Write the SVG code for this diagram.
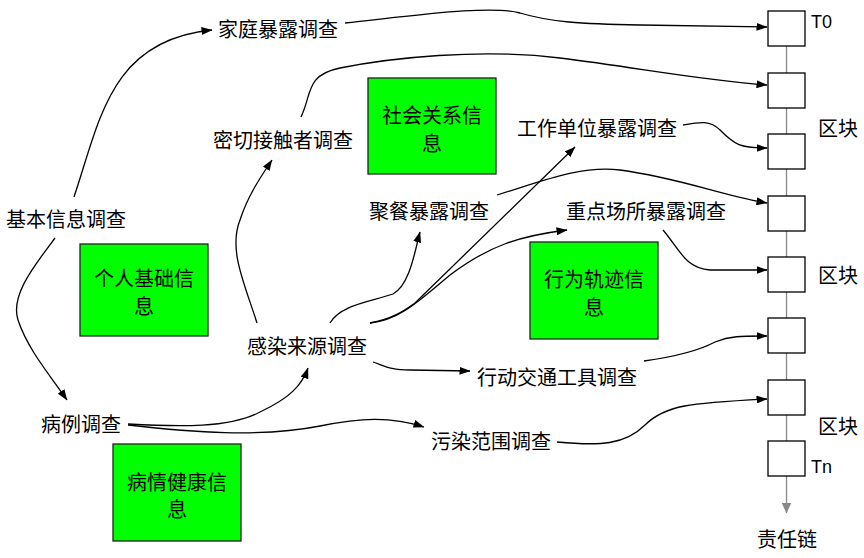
<svg xmlns="http://www.w3.org/2000/svg" width="864" height="558" viewBox="0 0 864 558">
<style>
text{font-family:"Noto Sans CJK SC","Noto Sans",sans-serif;font-size:20px;fill:#000;text-anchor:middle;dominant-baseline:central}
.lat{font-family:"Liberation Sans","Noto Sans",sans-serif;font-size:18px;text-anchor:start}
.blk{fill:#fff;stroke:#000;stroke-width:1.3}
.info{fill:#00ff00;stroke:#222;stroke-width:1.3}
.c{fill:none;stroke:#000;stroke-width:1.3;marker-end:url(#ah)}
.chain{fill:none;stroke:#888;stroke-width:1.3}
</style>
<defs>
<marker id="ah" viewBox="0 0 11 8" markerWidth="11" markerHeight="8" refX="10.5" refY="4" orient="auto" markerUnits="userSpaceOnUse"><path d="M0,0 L11,4 L0,8 z" fill="#000"/></marker>
<marker id="ahg" viewBox="0 0 11 10" markerWidth="11" markerHeight="10" refX="10.5" refY="5" orient="auto" markerUnits="userSpaceOnUse"><path d="M0,0 L11,5 L0,10 z" fill="#888"/></marker>
</defs>
<g id="chain">
<path class="chain" d="M786.5,45 V513" marker-end="url(#ahg)"/>
</g>
<g id="blocks">
<rect class="blk" x="768" y="11" width="37" height="35"/>
<rect class="blk" x="768" y="73" width="37" height="35"/>
<rect class="blk" x="768" y="134" width="37" height="35"/>
<rect class="blk" x="768" y="196" width="37" height="35"/>
<rect class="blk" x="768" y="257" width="37" height="35"/>
<rect class="blk" x="768" y="318" width="37" height="35"/>
<rect class="blk" x="768" y="380" width="37" height="35"/>
<rect class="blk" x="768" y="441" width="37" height="35"/>
<text class="lat" x="811" y="22">T0</text>
<text class="lat" x="811" y="467">Tn</text>
<text x="838" y="127">区块</text>
<text x="838" y="274">区块</text>
<text x="838" y="425">区块</text>
<text x="787" y="538">责任链</text>
</g>
<g id="n-jiating"><text x="278" y="28">家庭暴露调查</text></g>
<g id="n-jiben"><text x="66" y="218">基本信息调查</text></g>
<g id="n-miqie"><text x="283" y="139">密切接触者调查</text></g>
<g id="n-shehui"><rect class="info" x="368" y="78" width="128" height="96"/><text x="432" y="114">社会关系信</text><text x="432" y="142">息</text></g>
<g id="n-gongzuo"><text x="597" y="127">工作单位暴露调查</text></g>
<g id="n-jucan"><text x="429" y="210">聚餐暴露调查</text></g>
<g id="n-zhongdian"><text x="646" y="210">重点场所暴露调查</text></g>
<g id="n-geren"><rect class="info" x="80" y="244" width="128" height="92"/><text x="144" y="277">个人基础信</text><text x="144" y="305">息</text></g>
<g id="n-xingwei"><rect class="info" x="530" y="242" width="128" height="97"/><text x="594" y="278">行为轨迹信</text><text x="594" y="306">息</text></g>
<g id="n-ganran"><text x="307" y="345">感染来源调查</text></g>
<g id="n-xingdong"><text x="557" y="376">行动交通工具调查</text></g>
<g id="n-bingli"><text x="81" y="423">病例调查</text></g>
<g id="n-wuran"><text x="491" y="440">污染范围调查</text></g>
<g id="n-bingqing"><rect class="info" x="113" y="444" width="128" height="97"/><text x="177" y="481">病情健康信</text><text x="177" y="508">息</text></g>
<g id="connectors">
<path class="c" d="M74,197 C100,120 110,40 212,30"/>
<path class="c" d="M345,23 C420,15 490,5 520,13 C550,22 580,24 640,25 L767,27"/>
<path class="c" d="M301,117 C312,95 305,75 340,68 C390,58 480,48 560,58 C640,68 700,80 767,85"/>
<path class="c" d="M257,323 C245,285 228,250 240,220 C248,195 262,175 272,160"/>
<path class="c" d="M330,323 C340,305 370,302 393,294 C410,285 415,250 420,232"/>
<path class="c" d="M370,323 C392,319 402,312 415,303 L575,147"/>
<path class="c" d="M370,323 C400,320 420,300 450,275 C490,245 520,236 567,230"/>
<path class="c" d="M373,362 C385,366 390,370 410,370 L470,371"/>
<path class="c" d="M497,195 C540,182 580,165 620,170 C680,178 720,195 767,203"/>
<path class="c" d="M683,125 C700,122 710,120 720,130 C735,145 740,148 767,148"/>
<path class="c" d="M663,230 C680,250 685,268 710,270 L767,270"/>
<path class="c" d="M644,361 C680,356 700,350 715,342 C730,336 740,336 767,336"/>
<path class="c" d="M557,442 C600,446 625,445 645,425 C665,405 690,403 767,399"/>
<path class="c" d="M55,238 C35,265 10,295 18,320 C28,350 50,375 67,400"/>
<path class="c" d="M128,424 C180,427 230,428 260,412 C290,398 302,385 308,368"/>
<path class="c" d="M128,425 C190,432 260,438 320,426 C360,418 390,416 424,427"/>
</g>
</svg>
